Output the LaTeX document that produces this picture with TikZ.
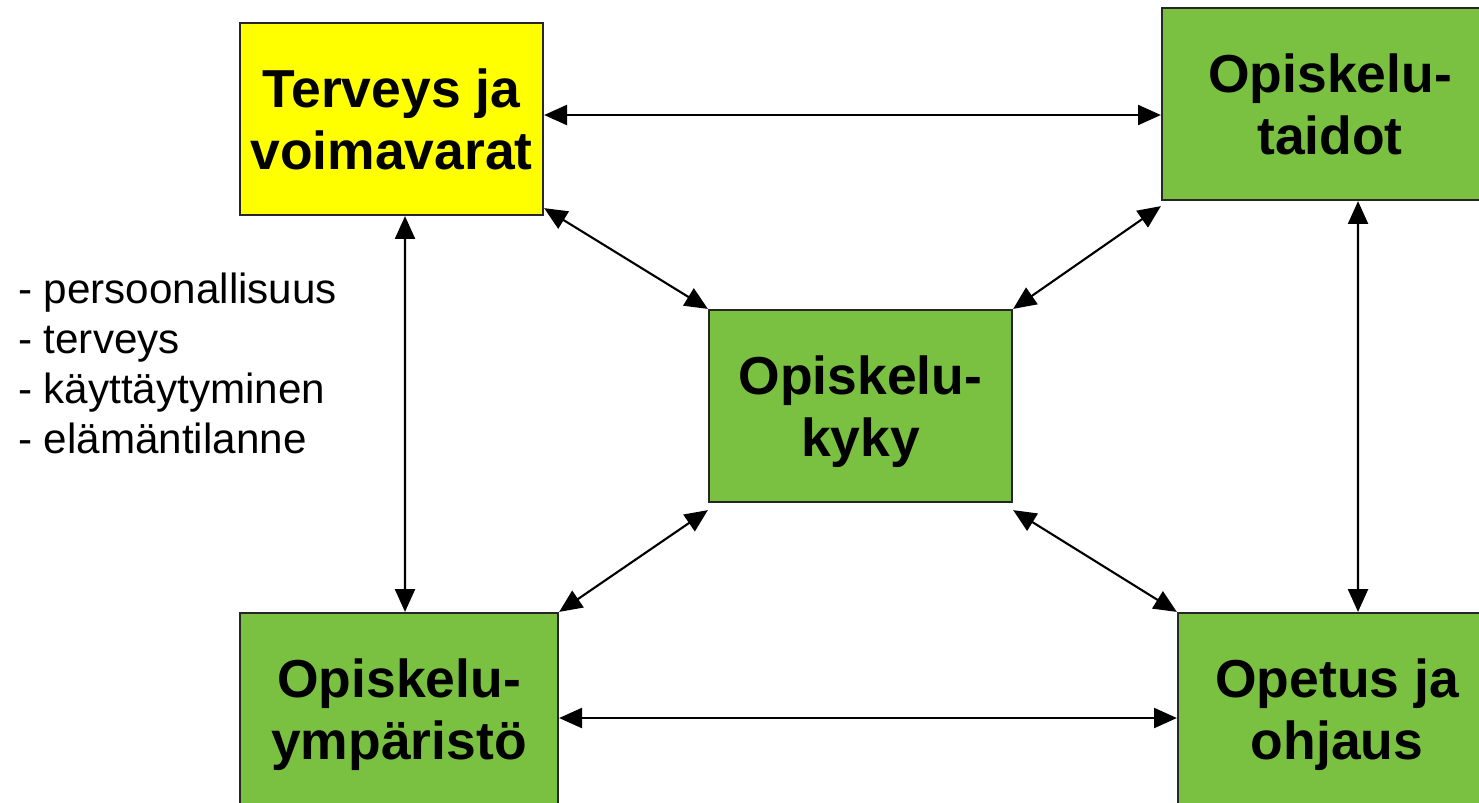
\documentclass[tikz,border=0pt]{standalone}
\usepackage{fontspec}
\setmainfont{Liberation Sans}
\usepackage{xcolor}
\usepackage{tikz}
\usetikzlibrary{arrows.meta}
\definecolor{kelta}{RGB}{255,255,0}
\definecolor{vihrea}{RGB}{122,193,66}

\begin{document}
\begin{tikzpicture}[
	x=0.01cm, y=-0.01cm,
	line width=0.6pt,
	>={Triangle[length=6.5pt,width=5.7pt]},
	laatikko/.style={draw=black!85, line width=0.6pt, align=center,
		inner sep=0pt, text depth=0pt, minimum height=1.92cm,
		font=\fontsize{15.2}{17.6}\selectfont\bfseries},
	font=\fontsize{12}{14.2}\selectfont]
  \clip (0,0) rectangle (1479,802);
  \node[laatikko,fill=kelta,minimum width=3.03cm] (terv) at (391.5,119) {Terveys ja\\voimavarat};
  \node[laatikko,fill=vihrea,minimum width=3.36cm] (taid) at (1330,104) {Opiskelu-\\taidot};
  \node[laatikko,fill=vihrea,minimum width=3.03cm] (kyky) at (860.5,406) {Opiskelu-\\kyky};
  \node[laatikko,fill=vihrea,minimum width=3.18cm] (ymp) at (399,709) {Opiskelu-\\ympäristö};
  \node[laatikko,fill=vihrea,minimum width=3.18cm] (ope) at (1337,709) {Opetus ja\\ohjaus};
  \node[anchor=north west,align=left,inner sep=0pt] (lista) at (17,272)
    {- persoonallisuus\\- terveys\\- käyttäytyminen\\- elämäntilanne};
  % nuolet
  \draw[<->] ([yshift=0.04cm]terv.east) -- ([yshift=0.04cm]terv.east -| taid.west);
  \draw[<->] ([yshift=-0.09cm]ymp.east) -- ([yshift=-0.09cm]ymp.east -| ope.west);
  \draw[<->] ([xshift=0.135cm]terv.south) -- ([xshift=0.06cm]ymp.north);
  \draw[<->] ([xshift=0.28cm]taid.south) -- ([xshift=0.21cm]ope.north);
  \draw[<->] ([yshift=0.08cm]terv.south east) -- (kyky.north west);
  \draw[<->] ([yshift=-0.05cm]taid.south west) -- (kyky.north east);
  \draw[<->] ([yshift=-0.07cm]kyky.south west) -- (ymp.north east);
  \draw[<->] ([yshift=-0.07cm]kyky.south east) -- (ope.north west);
\end{tikzpicture}
\end{document}
